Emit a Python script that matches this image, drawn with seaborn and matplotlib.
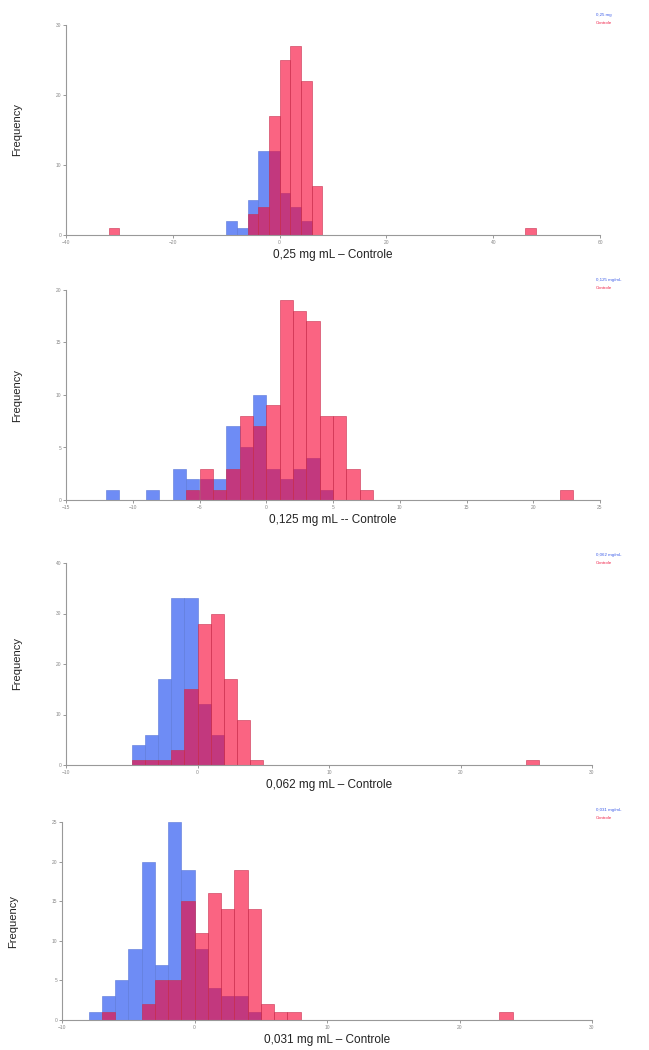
import numpy as np
import pandas as pd
import matplotlib
matplotlib.use("Agg")
import matplotlib.pyplot as plt
import seaborn as sns

# --- données (début de classe, effectif) ---
# 0,25 mg/mL (classes de largeur 2)
p1_blue_bins = [-10, -8, -6, -4, -2, 0, 2, 4]
p1_blue_counts = [2, 1, 5, 12, 12, 6, 4, 2]
p1_pink_bins = [-32, -6, -4, -2, 0, 2, 4, 6, 46]
p1_pink_counts = [1, 3, 4, 17, 25, 27, 22, 7, 1]

# 0,125 mg/mL
p2_blue_bins = [-12, -9, -7, -6, -5, -4, -3, -2, -1, 0, 1, 2, 3, 4]
p2_blue_counts = [1, 1, 3, 2, 2, 2, 7, 5, 10, 3, 2, 3, 4, 1]
p2_pink_bins = [-6, -5, -4, -3, -2, -1, 0, 1, 2, 3, 4, 5, 6, 7, 22]
p2_pink_counts = [1, 3, 1, 3, 8, 7, 9, 19, 18, 17, 8, 8, 3, 1, 1]

# 0,062 mg/mL
p3_blue_bins = [-5, -4, -3, -2, -1, 0, 1]
p3_blue_counts = [4, 6, 17, 33, 33, 12, 6]
p3_pink_bins = [-5, -4, -3, -2, -1, 0, 1, 2, 3, 4, 25]
p3_pink_counts = [1, 1, 1, 3, 15, 28, 30, 17, 9, 1, 1]

# 0,031 mg/mL
p4_blue_bins = [-8, -7, -6, -5, -4, -3, -2, -1, 0, 1, 2, 3, 4]
p4_blue_counts = [1, 3, 5, 9, 20, 7, 25, 19, 9, 4, 3, 3, 1]
p4_pink_bins = [-7, -4, -3, -2, -1, 0, 1, 2, 3, 4, 5, 6, 7, 23]
p4_pink_counts = [1, 2, 5, 5, 15, 11, 16, 14, 19, 14, 2, 1, 1, 1]

xlabels = ["0,25 mg mL – Controle", "0,125 mg mL -- Controle",
           "0,062 mg mL – Controle", "0,031 mg mL – Controle"]
legend_labels = ["0,25 mg", "0,125 mg/mL", "0,062 mg/mL", "0,031 mg/mL"]
binwidths = [2, 1, 1, 1]
xlims = [(-40, 60), (-15, 25), (-10, 30), (-10, 30)]
xsteps = [20, 5, 10, 10]
ylims = [(0, 30), (0, 20), (0, 40), (0, 25)]
ysteps = [10, 5, 10, 5]

panels = [
    (p1_blue_bins, p1_blue_counts, p1_pink_bins, p1_pink_counts),
    (p2_blue_bins, p2_blue_counts, p2_pink_bins, p2_pink_counts),
    (p3_blue_bins, p3_blue_counts, p3_pink_bins, p3_pink_counts),
    (p4_blue_bins, p4_blue_counts, p4_pink_bins, p4_pink_counts),
]

sns.set_theme(style="white")
plt.rcParams['font.family'] = ['Liberation Sans', 'DejaVu Sans']

W, H = 649, 1050
fig = plt.figure(figsize=(W / 100, H / 100), dpi=100)

# positions des axes en pixels : (gauche, haut, droite, bas)
boxes = [(66, 25, 600, 235), (66, 290, 600, 500),
         (66, 563, 592, 765), (62, 822, 592, 1020)]
legend_y = [15, 280, 555, 810]

blue = "#6e8cf5"
pink = "#f70535"

for i, (bb, bc, pb, pc) in enumerate(panels):
    l, t, r, b = boxes[i]
    ax = fig.add_axes([l / W, 1 - b / H, (r - l) / W, (b - t) / H])
    w = binwidths[i]

    df_b = pd.DataFrame({"x": np.array(bb) + w / 2, "n": bc})
    df_p = pd.DataFrame({"x": np.array(pb) + w / 2, "n": pc})

    sns.histplot(data=df_b, x="x", weights="n", binwidth=w,
                 binrange=(min(bb), max(bb) + w), color=blue, alpha=1,
                 edgecolor="#5a76d8", linewidth=0.4, ax=ax)
    sns.histplot(data=df_p, x="x", weights="n", binwidth=w,
                 binrange=(min(pb), max(pb) + w), color=pink, alpha=0.62,
                 edgecolor="#c8304f", linewidth=0.4, ax=ax)

    ax.set_xlim(*xlims[i])
    ax.set_ylim(*ylims[i])
    ax.set_xticks(np.arange(xlims[i][0], xlims[i][1] + 1, xsteps[i]))
    ax.set_yticks(np.arange(ylims[i][0], ylims[i][1] + 1, ysteps[i]))
    ax.tick_params(axis="both", labelsize=3.5, colors="#888888",
                   length=2, width=0.6, direction="out", bottom=True, left=True,
                   pad=1.5)
    for s in ["top", "right"]:
        ax.spines[s].set_visible(False)
    for s in ["left", "bottom"]:
        ax.spines[s].set_color("#999999")
        ax.spines[s].set_linewidth(0.8)

    ax.set_xlabel(xlabels[i], fontsize=8.5, color="#222222", labelpad=3)
    ax.set_ylabel("Frequency", fontsize=8, color="#222222", labelpad=24)

    # légende texte colorée en haut à droite
    fig.text(596 / W, 1 - legend_y[i] / H, legend_labels[i], color="#3a5be8",
             fontsize=3.2, va="center", ha="left")
    fig.text(596 / W, 1 - (legend_y[i] + 8) / H, "Controle", color="#f0244a",
             fontsize=3.2, va="center", ha="left")

fig.savefig("out.png", dpi=100, facecolor="white")
